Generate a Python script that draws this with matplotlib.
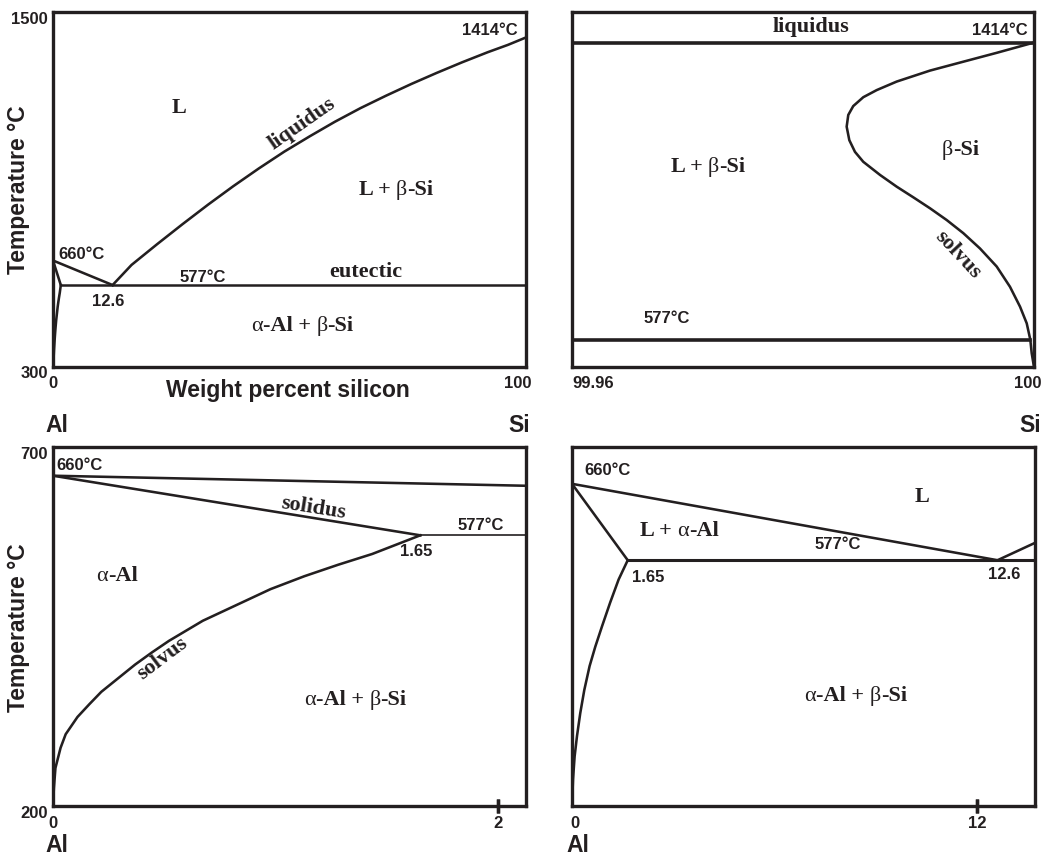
import matplotlib
matplotlib.use("Agg")
import matplotlib.pyplot as plt
from matplotlib.transforms import blended_transform_factory, ScaledTranslation
from matplotlib.offsetbox import TextArea, HPacker, AnnotationBbox

# ---------------------------------------------------------------------------
# Al–Si phase diagram data (composition in wt% Si, temperature in °C)
# ---------------------------------------------------------------------------
T_MELT_SI = 1414
T_EUTECTIC = 577
X_EUTECTIC = 12.6
X_MAX_SOL_AL = 1.65

# Al-rich liquidus: Al melting point down to the eutectic
liq_al_x = [0, 12.6]
liq_al_T = [660, 577]

# Si-rich liquidus: eutectic up to the Si melting point
liq_si_x = [12.6, 16.6, 22.0, 27.4, 32.8, 38.1, 43.5, 48.9, 54.3, 59.6, 65.0,
            70.4, 75.8, 81.1, 86.5, 91.9, 96.2, 100]
liq_si_T = [577, 645, 715, 783, 849, 911, 971, 1028, 1080, 1129, 1175,
            1217, 1257, 1294, 1330, 1364, 1389, 1414]

# α-Al solidus
sol_al_x = [0, 1.65]
sol_al_T = [660, 577]

# α-Al solvus (detail of the Al corner)
solv_al_x = [0, 0.004, 0.011, 0.034, 0.057, 0.110, 0.164, 0.217, 0.293, 0.369,
             0.445, 0.521, 0.673, 0.825, 0.977, 1.129, 1.281, 1.434, 1.65]
solv_al_T = [200, 225, 253, 281, 300, 324, 342, 359, 378, 397,
             414, 430, 458, 480, 502, 520, 536, 551, 577]

# α-Al solvus as sketched on the eutectic-region panel
solv_al_x_eut = [0, 0.03, 0.078, 0.148, 0.245, 0.364, 0.521, 0.689, 0.887,
                 1.13, 1.38, 1.65]
solv_al_T_eut = [310, 339, 364, 386, 411, 436, 462, 483, 505, 531, 556, 577]

# β-Si retrograde solvus (Si corner)
solv_si_x = [100, 99.99677, 99.99388, 99.991, 99.98811, 99.98638, 99.98522,
             99.98435, 99.98392, 99.98378, 99.98401, 99.9845, 99.98522,
             99.98667, 99.98811, 99.98955, 99.991, 99.99244, 99.99388,
             99.99532, 99.99677, 99.99792, 99.99879, 99.99937, 99.99968,
             99.9998, 100]
solv_si_T = [1414, 1385, 1360, 1335, 1304, 1280, 1260, 1235, 1210, 1177, 1139,
             1106, 1078, 1041, 1008, 978, 947, 914, 877, 834, 783, 726, 670,
             623, 577, 539, 500]

# Axis ranges
xlim_full, ylim_full = (0, 100), (300, 1500)
xlim_si, ylim_si = (99.96, 100), (500, 1500)
xlim_al, ylim_al = (0, 2.125), (200, 700)
xlim_eut, ylim_eut = (0, 13.71), (310, 700)

# Tick labels
xticks_full = [(0, "0"), (100, "100")]
yticks_full = [(1500, "1500"), (300, "300")]
xticks_si = [(99.96, "99.96"), (100, "100")]
xticks_al = [(0, "0"), (2, "2")]
yticks_al = [(700, "700"), (200, "200")]
xticks_eut = [(0, "0"), (12, "12")]

# ---------------------------------------------------------------------------
INK = "#231f20"
SANS = "Liberation Sans"
SERIF = "Liberation Serif"
W, H = 1049, 858

fig = plt.figure(figsize=(W / 100, H / 100), dpi=100)
fig.patch.set_facecolor("white")


def add_panel(x0, y0, x1, y1, xlim, ylim):
    ax = fig.add_axes([x0 / W, 1 - y1 / H, (x1 - x0) / W, (y1 - y0) / H])
    ax.set_xlim(*xlim)
    ax.set_ylim(*ylim)
    ax.set_xticks([])
    ax.set_yticks([])
    for sp in ax.spines.values():
        sp.set_linewidth(2.4)
        sp.set_color(INK)
        sp.set_zorder(5)
    return ax


def px(v):
    return v / 100.0


def xtick_labels(ax, ticks, marks=(), offsets=None):
    tr = blended_transform_factory(ax.transData, ax.transAxes)
    offsets = offsets or {}
    for val, s in ticks:
        dx = offsets.get(val, 0)
        t = tr + ScaledTranslation(px(dx), px(-17), fig.dpi_scale_trans)
        ax.text(val, 0, s, transform=t, ha="center", va="center",
                fontsize=12, fontweight="bold", family=SANS, color=INK)
    for val in marks:
        ax.plot([val, val], [0, 0], transform=tr, marker="|", markersize=9.5,
                markeredgewidth=2.4, color=INK, clip_on=False, zorder=6)


def ytick_labels(ax, ticks):
    tr = blended_transform_factory(ax.transAxes, ax.transData)
    t = tr + ScaledTranslation(px(-5), px(-7), fig.dpi_scale_trans)
    for val, s in ticks:
        ax.text(0, val, s, transform=t, ha="right", va="center",
                fontsize=12, fontweight="bold", family=SANS, color=INK)


def num(ax, x, y, s, ha="center", size=12):
    ax.text(x, y, s, ha=ha, va="center", fontsize=size, fontweight="bold",
            family=SANS, color=INK)


GREEK = set("αβ")


def phase(ax, x, y, s, rot=0, size=16):
    """Phase-field label: bold serif, with Greek letters set in regular weight."""
    if rot or not (GREEK & set(s)):
        ax.text(x, y, s, ha="center", va="center", fontsize=size,
                fontweight="bold", family=SERIF, color=INK, rotation=rot,
                rotation_mode="anchor")
        return
    runs, cur, cur_greek = [], "", None
    for ch in s:
        g = ch in GREEK
        if cur and g != cur_greek:
            runs.append((cur, cur_greek))
            cur = ""
        cur += ch
        cur_greek = g
    runs.append((cur, cur_greek))
    parts = [TextArea(r, textprops=dict(fontsize=size, family=SERIF, color=INK,
                                        fontweight="normal" if g else "bold"))
             for r, g in runs]
    box = HPacker(children=parts, align="baseline", pad=0, sep=0)
    ab = AnnotationBbox(box, (x, y), xycoords="data", frameon=False,
                        box_alignment=(0.5, 0.5), pad=0)
    ax.add_artist(ab)


def fig_label(xp, yp, s, rot=0, ha="center", size=16.5):
    fig.text(xp / W, 1 - yp / H, s, ha=ha, va="center", rotation=rot,
             fontsize=size, fontweight="bold", family=SANS, color=INK)


LW = 1.85

# --- Panel 1: full diagram -------------------------------------------------
ax1 = add_panel(53, 12, 526, 367, xlim_full, ylim_full)
ax1.plot(liq_al_x, liq_al_T, color=INK, lw=LW)
ax1.plot(liq_si_x, liq_si_T, color=INK, lw=LW, solid_joinstyle="round")
ax1.plot(sol_al_x, sol_al_T, color=INK, lw=LW)
ax1.plot(solv_al_x, solv_al_T, color=INK, lw=LW)
ax1.plot([X_MAX_SOL_AL, 100], [T_EUTECTIC, T_EUTECTIC], color=INK, lw=1.8)
num(ax1, 92.4, 1438, "1414°C")
phase(ax1, 26.7, 1176, "L")
phase(ax1, 52.7, 1123, "liquidus", rot=35)
phase(ax1, 72.5, 897, "L + β-Si")
num(ax1, 1.1, 680, "660°C", ha="left")
num(ax1, 31.7, 602, "577°C")
phase(ax1, 66.1, 620, "eutectic")
num(ax1, 11.6, 520, "12.6")
phase(ax1, 52.7, 437, "α-Al + β-Si")
xtick_labels(ax1, xticks_full, offsets={100: -8})
ytick_labels(ax1, yticks_full)
fig_label(288, 390, "Weight percent silicon")
fig_label(18.6, 190, "Temperature °C", rot=90)
fig_label(57, 426, "Al")
fig_label(519, 426, "Si")

# --- Panel 2: Si corner ----------------------------------------------------
ax2 = add_panel(572, 12, 1034, 367, xlim_si, ylim_si)
ax2.plot(xlim_si, [T_MELT_SI, T_MELT_SI], color=INK, lw=2.6)
ax2.plot([xlim_si[0], solv_si_x[-3]], [T_EUTECTIC, T_EUTECTIC], color=INK, lw=2.6)
ax2.plot(solv_si_x, solv_si_T, color=INK, lw=LW, solid_joinstyle="round")
phase(ax2, 99.98069, 1459, "liquidus")
num(ax2, 99.99706, 1447, "1414°C")
phase(ax2, 99.97177, 1064, "L + β-Si")
phase(ax2, 99.99365, 1111, "β-Si")
phase(ax2, 99.99339, 815, "solvus", rot=-47)
num(ax2, 99.9682, 637, "577°C")
xtick_labels(ax2, xticks_si, offsets={99.96: 21, 100: -6.5})
fig_label(1030, 426, "Si")

# --- Panel 3: Al corner, α-Al solubility -----------------------------------
ax3 = add_panel(53, 447, 526, 806, xlim_al, ylim_al)
ax3.plot(liq_al_x, liq_al_T, color=INK, lw=LW)
ax3.plot(sol_al_x, sol_al_T, color=INK, lw=LW)
ax3.plot(solv_al_x, solv_al_T, color=INK, lw=LW, solid_joinstyle="round")
ax3.plot([X_MAX_SOL_AL, xlim_al[1]], [T_EUTECTIC, T_EUTECTIC], color=INK, lw=1.2)
num(ax3, 0.017, 674, "660°C", ha="left")
phase(ax3, 1.168, 615, "solidus", rot=-9)
num(ax3, 1.92, 590, "577°C")
num(ax3, 1.63, 554, "1.65")
phase(ax3, 0.287, 520, "α-Al")
phase(ax3, 0.49, 406, "solvus", rot=37)
phase(ax3, 1.358, 347, "α-Al + β-Si")
xtick_labels(ax3, xticks_al, marks=[2])
ytick_labels(ax3, yticks_al)
fig_label(18.6, 628, "Temperature °C", rot=90)
fig_label(57, 846, "Al")

# --- Panel 4: eutectic region ----------------------------------------------
ax4 = add_panel(572, 447, 1035, 806, xlim_eut, ylim_eut)
ax4.plot(liq_al_x, liq_al_T, color=INK, lw=LW)
ax4.plot(liq_si_x, liq_si_T, color=INK, lw=LW)
ax4.plot(sol_al_x, sol_al_T, color=INK, lw=LW)
ax4.plot(solv_al_x_eut, solv_al_T_eut, color=INK, lw=LW, solid_joinstyle="round")
ax4.plot([X_MAX_SOL_AL, xlim_eut[1]], [T_EUTECTIC, T_EUTECTIC], color=INK, lw=2.2)
num(ax4, 0.37, 674, "660°C", ha="left")
phase(ax4, 10.36, 646, "L")
phase(ax4, 3.17, 609, "L + α-Al")
num(ax4, 7.88, 594, "577°C")
num(ax4, 2.26, 558, "1.65")
num(ax4, 12.79, 562, "12.6")
phase(ax4, 8.40, 429, "α-Al + β-Si")
xtick_labels(ax4, xticks_eut, marks=[12], offsets={0: 3})
fig_label(578, 846, "Al")

fig.savefig("out.png", dpi=100, facecolor="white")
